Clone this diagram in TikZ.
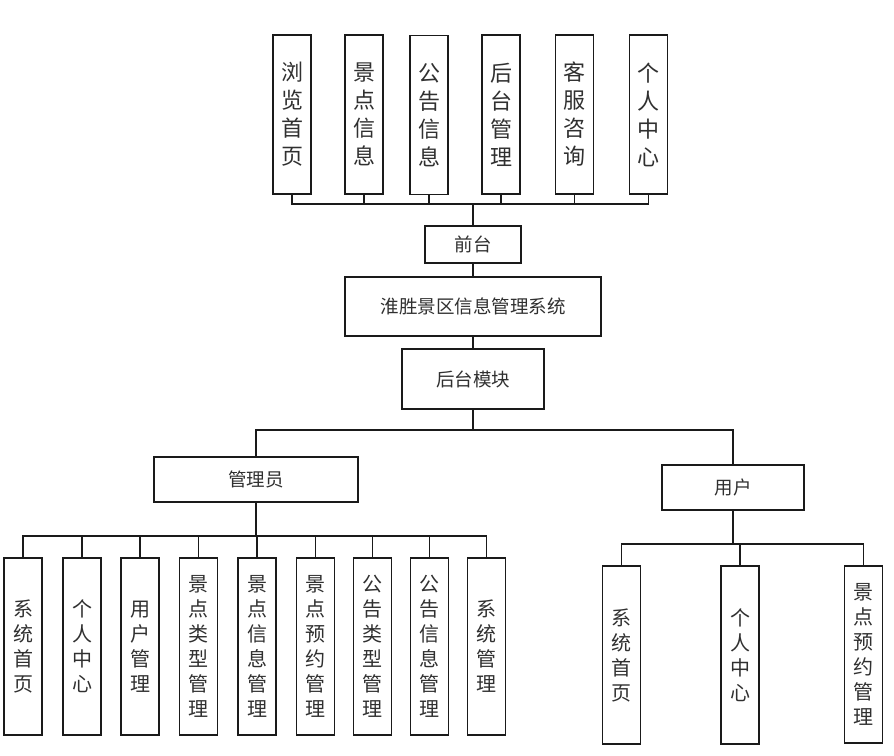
\documentclass[tikz,border=0pt]{standalone}
\usepackage{fontspec}
\setmainfont{Noto Sans CJK SC}
\definecolor{ln}{HTML}{1A1A1A}
\definecolor{tx}{HTML}{303030}
\begin{document}
\begin{tikzpicture}[x=1pt,y=-1pt,
  box/.style={draw=ln,line width=1.6pt,fill=white,inner sep=0pt,text=tx,align=center},
  tallbox/.style={box,minimum width=38pt,minimum height=159pt,font=\fontsize{22}{28}\selectfont},
  lowbox/.style={box,minimum width=38pt,minimum height=177pt,font=\fontsize{20}{25}\selectfont},
  widebox/.style={box,font=\fontsize{18.5}{22}\selectfont},
  conn/.style={draw=ln,line width=1.6pt}]
\useasboundingbox (0,0) rectangle (894,755);
% top row
\node[tallbox] (t1) at (292,114.5) {浏\\览\\首\\页};
\node[tallbox] (t2) at (364,114.5) {景\\点\\信\\息};
\node[tallbox] (t3) at (429,115) {公\\告\\信\\息};
\node[tallbox] (t4) at (501,114.5) {后\\台\\管\\理};
\node[tallbox] (t5) at (574.5,114.5) {客\\服\\咨\\询};
\node[tallbox] (t6) at (648.5,114.5) {个\\人\\中\\心};
% middle
\node[widebox,minimum width=96pt,minimum height=37pt] (qt) at (473,244.5) {前台};
\node[widebox,minimum width=256pt,minimum height=59pt] (sys) at (473,306.5) {淮胜景区信息管理系统};
\node[widebox,minimum width=142pt,minimum height=60pt] (ht) at (473,379) {后台模块};
\node[widebox,minimum width=204pt,minimum height=45pt] (adm) at (256,479.5) {管理员};
\node[widebox,minimum width=142pt,minimum height=45pt] (usr) at (733,487.5) {用户};
% admin children
\node[lowbox] (a1) at (23,646.5) {系\\统\\首\\页};
\node[lowbox] (a2) at (82,646.5) {个\\人\\中\\心};
\node[lowbox] (a3) at (140,646.5) {用\\户\\管\\理};
\node[lowbox] (a4) at (198.5,646.5) {景\\点\\类\\型\\管\\理};
\node[lowbox] (a5) at (257,646.5) {景\\点\\信\\息\\管\\理};
\node[lowbox] (a6) at (315.5,646.5) {景\\点\\预\\约\\管\\理};
\node[lowbox] (a7) at (372.5,646.5) {公\\告\\类\\型\\管\\理};
\node[lowbox] (a8) at (429.5,646.5) {公\\告\\信\\息\\管\\理};
\node[lowbox] (a9) at (486.5,646.5) {系\\统\\管\\理};
% user children
\node[lowbox,minimum height=178pt] (u1) at (621.5,655) {系\\统\\首\\页};
\node[lowbox,minimum height=178pt] (u2) at (740,655) {个\\人\\中\\心};
\node[lowbox,minimum height=177pt] (u3) at (863.5,654.5) {景\\点\\预\\约\\管\\理};
% connectors
\coordinate (tbus) at (473,204);
\foreach \n in {t1,t2,t3,t4,t5,t6} \draw[conn] (\n.south) |- (tbus);
\draw[conn] (tbus) -- (qt.north);
\draw[conn] (qt.south) -- (sys.north);
\draw[conn] (sys.south) -- (ht.north);
\coordinate (split) at (473,430);
\draw[conn] (ht.south) -- (split);
\draw[conn] (split) -| (adm.north);
\draw[conn] (split) -| (usr.north);
\coordinate (abus) at (256,536);
\draw[conn] (adm.south) -- (abus);
\foreach \n in {a1,a2,a3,a4,a5,a6,a7,a8,a9} \draw[conn] (abus) -| (\n.north);
\coordinate (ubus) at (733,544);
\draw[conn] (usr.south) -- (ubus);
\foreach \n in {u1,u2,u3} \draw[conn] (ubus) -| (\n.north);
\end{tikzpicture}
\end{document}
